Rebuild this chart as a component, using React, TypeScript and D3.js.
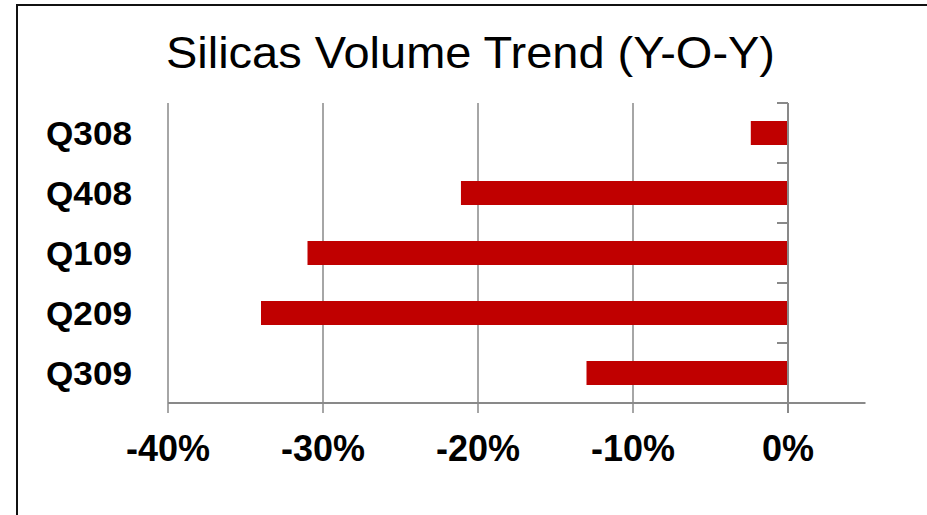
import React from "react";
import * as d3 from "d3";

const quarters = ["Q308", "Q408", "Q109", "Q209", "Q309"];
const volumeChange = [-0.024, -0.211, -0.31, -0.34, -0.13];
const xTicks = [-0.4, -0.3, -0.2, -0.1, 0];

const W = 927;
const H = 515;
const plot = { left: 168, right: 865.5, top: 103, bottom: 403 };
const axisColor = "#898989";
const barColor = "#C00000";
const font = "'Liberation Sans', Arial, sans-serif";

// percent labels with a plain hyphen for negatives
const pct = (v: number) => d3.format(".0%")(v).replace("\u2212", "-");

export default function App() {
  const x = d3.scaleLinear().domain([-0.4, 0.05]).range([plot.left, plot.right]);
  const y = d3
    .scaleBand<string>()
    .domain(quarters)
    .range([plot.top, plot.bottom])
    .paddingInner(0.6)
    .paddingOuter(0.3);
  const step = y.step();
  const x0 = x(0);
  const boundaries = d3.range(quarters.length + 1).map((i) => plot.top + i * step);

  return (
    <div style={{ position: "fixed", left: 0, top: 0 }}>
      <svg width={W} height={H} style={{ display: "block", background: "#fff" }}>
        {/* frame around the chart */}
        <rect x={17} y={5} width={W + 20} height={H + 20} fill="none" stroke="#111" strokeWidth={2} />

        <text
          x={166}
          y={68}
          textLength={609}
          lengthAdjust="spacingAndGlyphs"
          fontFamily={font}
          fontSize={44}
          fill="#000"
        >
          Silicas Volume Trend (Y-O-Y)
        </text>

        {/* vertical gridlines, extending below the axis as tick marks */}
        {xTicks.map((t) => (
          <line
            key={t}
            x1={x(t)}
            x2={x(t)}
            y1={plot.top}
            y2={plot.bottom + 10}
            stroke={axisColor}
            strokeWidth={1.5}
          />
        ))}

        {/* bars */}
        {quarters.map((q, i) => {
          const v = volumeChange[i];
          return (
            <rect
              key={q}
              x={x(Math.min(v, 0))}
              y={y(q)}
              width={Math.abs(x(v) - x0)}
              height={y.bandwidth()}
              fill={barColor}
            />
          );
        })}

        {/* x axis */}
        <line x1={plot.left} x2={plot.right} y1={plot.bottom} y2={plot.bottom} stroke={axisColor} strokeWidth={2} />
        {/* category axis at zero with ticks on the left */}
        <line x1={x0} x2={x0} y1={plot.top} y2={plot.bottom + 10} stroke={axisColor} strokeWidth={2} />
        {boundaries.map((b, i) => (
          <line key={i} x1={x0 - 11} x2={x0} y1={b} y2={b} stroke={axisColor} strokeWidth={2} />
        ))}

        {/* x tick labels */}
        {xTicks.map((t) => (
          <text
            key={t}
            x={x(t)}
            y={460.5}
            textAnchor="middle"
            fontFamily={font}
            fontWeight="bold"
            fontSize={36}
            fill="#000"
          >
            {pct(t)}
          </text>
        ))}

        {/* category labels */}
        {quarters.map((q) => (
          <text
            key={q}
            x={46}
            y={(y(q) ?? 0) + y.bandwidth() / 2}
            dy="0.36em"
            textLength={86}
            lengthAdjust="spacingAndGlyphs"
            fontFamily={font}
            fontWeight="bold"
            fontSize={34}
            fill="#000"
          >
            {q}
          </text>
        ))}
      </svg>
    </div>
  );
}
